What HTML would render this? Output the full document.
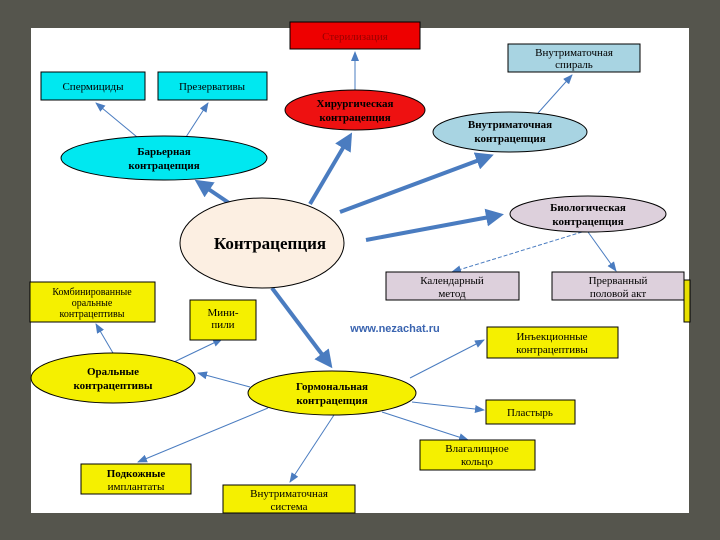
<!DOCTYPE html><html><head><meta charset="utf-8"><style>
body{margin:0;width:720px;height:540px;background:#55554d;overflow:hidden}
svg{position:absolute;left:0;top:0}
text{font-family:"Liberation Serif",serif;font-size:11px;text-anchor:middle}
.b{font-weight:bold}
</style></head><body>
<svg width="720" height="540" viewBox="0 0 720 540">
<defs>
<marker id="a" markerWidth="4.5" markerHeight="4.5" refX="3.5" refY="2.25" orient="auto" markerUnits="strokeWidth"><path d="M0,0L4.5,2.25L0,4.5z" fill="#4a7cc0"/></marker>
<marker id="t" markerWidth="10" markerHeight="8" refX="9" refY="4" orient="auto" markerUnits="userSpaceOnUse"><path d="M0,0L10,4L0,8z" fill="#4a7cc0"/></marker>
</defs>
<rect x="31" y="28" width="658" height="485" fill="#fff"/>
<rect x="684" y="280" width="6" height="42" fill="#e8e000" stroke="#000"/>
<g stroke="#4a7cc0" fill="none">
<g stroke-width="4" marker-end="url(#a)">
<line x1="232" y1="205" x2="198" y2="182"/>
<line x1="310" y1="204" x2="350" y2="136"/>
<line x1="340" y1="212" x2="490" y2="156"/>
<line x1="366" y1="240" x2="500" y2="215"/>
<line x1="272" y1="288" x2="330" y2="365"/>
</g>
<g stroke-width="1" marker-end="url(#t)">
<line x1="355" y1="90" x2="355" y2="52"/>
<line x1="538" y1="113" x2="572" y2="75"/>
<line x1="137" y1="137" x2="96" y2="103"/>
<line x1="186" y1="137" x2="208" y2="103"/>
<line x1="588" y1="232" x2="616" y2="271"/>
<line x1="113" y1="353" x2="96" y2="324"/>
<line x1="174" y1="362" x2="222" y2="339"/>
<line x1="250" y1="387" x2="198" y2="373"/>
<line x1="410" y1="378" x2="484" y2="340"/>
<line x1="412" y1="402" x2="484" y2="410"/>
<line x1="382" y1="412" x2="468" y2="440"/>
<line x1="268" y1="408" x2="138" y2="462"/>
<line x1="334" y1="415" x2="290" y2="482"/>
</g>
<line x1="582" y1="232" x2="452" y2="272" stroke-width="1" stroke-dasharray="4,2" marker-end="url(#t)"/>
</g>
<g stroke="#000" stroke-width="1">
<rect x="290" y="22" width="130" height="27" fill="#ee0000"/>
<rect x="508" y="44" width="132" height="28" fill="#a8d4e2"/>
<rect x="41" y="72" width="104" height="28" fill="#00e8f0"/>
<rect x="158" y="72" width="109" height="28" fill="#00e8f0"/>
<ellipse cx="355" cy="110" rx="70" ry="20" fill="#ee1111"/>
<ellipse cx="510" cy="132" rx="77" ry="20" fill="#a8d4e2"/>
<ellipse cx="164" cy="158" rx="103" ry="22" fill="#00e8f0"/>
<ellipse cx="262" cy="243" rx="82" ry="45" fill="#fcefe2"/>
<ellipse cx="588" cy="214" rx="78" ry="18" fill="#ddd0dc"/>
<rect x="386" y="272" width="133" height="28" fill="#ddd0dc"/>
<rect x="552" y="272" width="132" height="28" fill="#ddd0dc"/>
<rect x="30" y="282" width="125" height="40" fill="#f5f000"/>
<rect x="190" y="300" width="66" height="40" fill="#f5f000"/>
<rect x="487" y="327" width="131" height="31" fill="#f5f000"/>
<ellipse cx="113" cy="378" rx="82" ry="25" fill="#f5f000"/>
<ellipse cx="332" cy="393" rx="84" ry="22" fill="#f5f000"/>
<rect x="486" y="400" width="89" height="24" fill="#f5f000"/>
<rect x="420" y="440" width="115" height="30" fill="#f5f000"/>
<rect x="81" y="464" width="110" height="30" fill="#f5f000"/>
<rect x="223" y="485" width="132" height="28" fill="#f5f000"/>
</g>
<text x="355" y="40" fill="#900">Стерилизация</text>
<text x="574" y="56">Внутриматочная</text><text x="574" y="68">спираль</text>
<text x="93" y="90">Спермициды</text>
<text x="212" y="90">Презервативы</text>
<text class="b" x="355" y="107">Хирургическая</text><text class="b" x="355" y="121">контрацепция</text>
<text class="b" x="510" y="128">Внутриматочная</text><text class="b" x="510" y="142">контрацепция</text>
<text class="b" x="164" y="155">Барьерная</text><text class="b" x="164" y="169">контрацепция</text>
<text class="b" x="270" y="249" style="font-size:17px">Контрацепция</text>
<text class="b" x="588" y="211">Биологическая</text><text class="b" x="588" y="225">контрацепция</text>
<text x="452" y="284">Календарный</text><text x="452" y="297">метод</text>
<text x="618" y="284">Прерванный</text><text x="618" y="297">половой акт</text>
<text x="92" y="295" style="font-size:10px">Комбинированные</text><text x="92" y="306" style="font-size:10px">оральные</text><text x="92" y="317" style="font-size:10px">контрацептивы</text>
<text x="223" y="316">Мини-</text><text x="223" y="328">пили</text>
<text x="395" y="332" fill="#3a64b0" style="font-family:'Liberation Sans',sans-serif;font-weight:bold;font-size:11px">www.nezachat.ru</text>
<text x="552" y="340">Инъекционные</text><text x="552" y="353">контрацептивы</text>
<text class="b" x="113" y="375">Оральные</text><text class="b" x="113" y="389">контрацептивы</text>
<text class="b" x="332" y="390">Гормональная</text><text class="b" x="332" y="404">контрацепция</text>
<text x="530" y="416">Пластырь</text>
<text x="477" y="452">Влагалищное</text><text x="477" y="465">кольцо</text>
<text class="b" x="136" y="477">Подкожные</text><text x="136" y="490">имплантаты</text>
<text x="289" y="497">Внутриматочная</text><text x="289" y="510">система</text>
</svg></body></html>
